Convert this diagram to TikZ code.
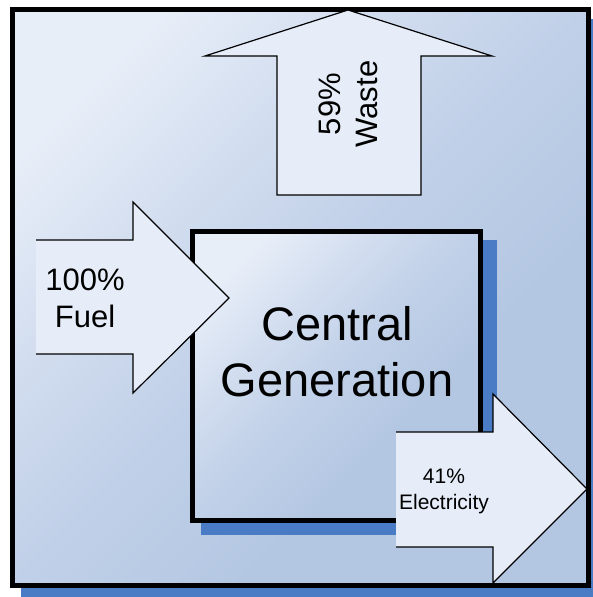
\documentclass[tikz,border=0pt]{standalone}
\usepackage{fontspec}
\setmainfont{Liberation Sans}
\definecolor{boxlite}{HTML}{E7EEF8}
\definecolor{boxsoft}{HTML}{D2DDEF}
\definecolor{boxmid}{HTML}{C0D0E8}
\definecolor{boxdark}{HTML}{B4C7E2}
\definecolor{dropblue}{HTML}{4A7BC5}
\definecolor{arrowfill}{HTML}{E6EDF8}
\pgfdeclareverticalshading{panelramp}{100bp}{color(0bp)=(boxdark); color(25bp)=(boxdark);
  color(36bp)=(boxdark); color(50bp)=(boxmid); color(63bp)=(boxsoft); color(76bp)=(boxlite);
  color(100bp)=(boxlite)}
\tikzset{panel/.style={draw=black,line width=5pt,shading=panelramp,shading angle=45},
         drop/.style={fill=dropblue},
         blockarrow/.style={draw=black,fill=arrowfill,line width=1.2pt,line join=miter},
         big/.style={font=\fontsize{47}{56}\selectfont,align=center,inner sep=0pt},
         mid/.style={font=\fontsize{31}{37}\selectfont,align=center,inner sep=0pt},
         small/.style={font=\fontsize{21}{26}\selectfont,align=center,inner sep=0pt}}

\begin{document}
\begin{tikzpicture}[x=1pt,y=-1pt]
\clip (0,0) rectangle (593,597);
% outer frame
\fill[drop] (21,19) rectangle (601,601);
\path[panel] (12.5,9.5) rectangle (588.5,585.5);
% plant
\fill[drop] (201,240) rectangle (497,535);
\path[panel] (192.5,231.5) rectangle (480.5,520);
\node[big] (plant) at (337,352) {Central\\Generation};
% flows
\filldraw[blockarrow] (277,195) -- (277,56) -- (205,56) -- (348,10) -- (492,56)
    -- (421,56) -- (421,195) -- cycle;
\filldraw[blockarrow] (36,240) -- (133,240) -- (133,202) -- (229,298) -- (133,393)
    -- (133,354) -- (36,354);
\filldraw[blockarrow] (396,432) -- (493,432) -- (493,394) -- (587,489) -- (493,583)
    -- (493,547) -- (396,547);
\node[mid,rotate=90] (waste) at (348,104) {59\%\\Waste};
\node[mid] (fuel) at (85,298.5) {100\%\\Fuel};
\node[small] (power) at (444,491.5) {41\%\\Electricity};
\end{tikzpicture}
\end{document}
